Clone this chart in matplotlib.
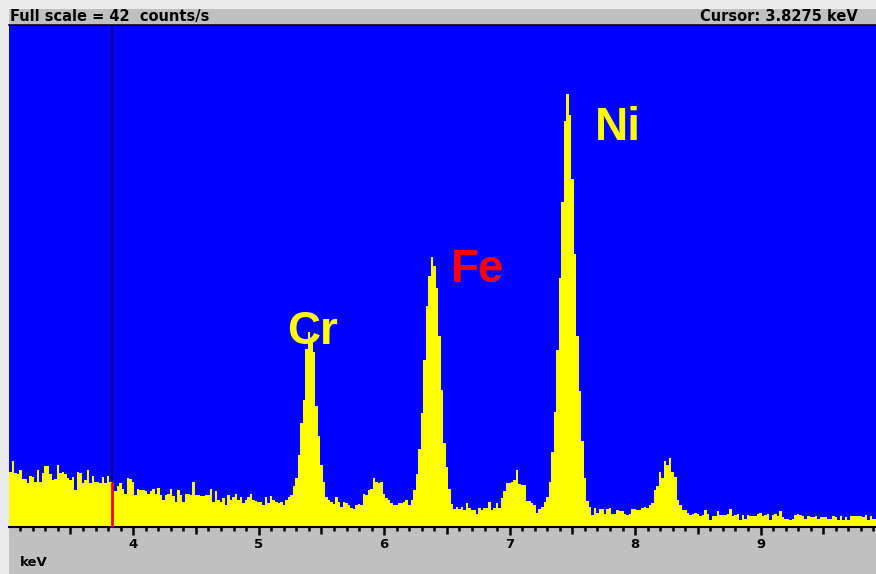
import numpy as np
import matplotlib
matplotlib.use('Agg')
import matplotlib.pyplot as plt
from matplotlib.patches import Rectangle

# EDS spectrum, 20 eV channels starting at 3.01 keV (counts/s)
e_start = 3.01
ch_width = 0.02
counts = [
    4.6, 5.5, 4.5, 4.4, 4.8, 4.0, 4.0, 3.7, 4.3, 4.2,
    3.8, 4.8, 3.8, 4.5, 5.1, 5.1, 4.4, 3.9, 4.0, 5.2,
    4.5, 4.6, 4.4, 4.1, 3.9, 4.2, 3.1, 4.6, 4.5, 3.7,
    3.9, 4.8, 3.7, 4.3, 3.8, 3.8, 3.7, 4.2, 3.7, 4.3,
    3.8, 2.9, 3.0, 3.4, 3.7, 3.2, 2.8, 4.1, 4.0, 3.8,
    2.7, 3.2, 3.1, 3.1, 3.0, 2.8, 3.0, 3.2, 2.8, 3.3,
    2.7, 2.3, 2.7, 2.8, 3.2, 2.6, 2.1, 3.1, 2.7, 2.1,
    2.8, 2.8, 2.7, 3.8, 2.7, 2.7, 2.6, 2.6, 2.7, 2.7,
    3.2, 2.1, 3.0, 2.3, 2.1, 2.4, 1.8, 2.7, 2.3, 2.5,
    2.8, 2.3, 2.5, 2.0, 2.3, 2.5, 2.8, 2.3, 2.2, 2.1,
    2.1, 1.8, 2.5, 2.0, 2.6, 2.3, 2.1, 2.0, 2.1, 1.8,
    2.3, 2.5, 2.7, 3.4, 4.1, 6.0, 8.7, 10.6, 14.9, 16.3,
    15.8, 14.6, 10.1, 7.6, 5.2, 3.8, 2.5, 2.3, 2.1, 1.9,
    2.5, 2.1, 1.7, 2.1, 2.0, 1.8, 1.6, 1.5, 1.8, 1.9,
    1.8, 2.8, 2.7, 3.1, 3.2, 4.1, 3.8, 3.7, 3.8, 2.8,
    2.4, 2.3, 2.0, 1.8, 1.8, 2.0, 2.0, 2.1, 2.3, 1.8,
    2.3, 3.1, 4.4, 6.5, 9.5, 14.0, 18.5, 21.0, 22.6, 21.8,
    20.0, 16.0, 11.5, 7.0, 5.0, 3.2, 1.9, 1.5, 1.7, 1.5,
    1.7, 1.4, 2.0, 1.6, 1.4, 1.4, 1.1, 1.6, 1.4, 1.6,
    1.6, 2.1, 1.4, 1.6, 2.0, 1.6, 2.4, 3.0, 3.7, 3.7,
    3.8, 3.9, 4.8, 3.6, 3.5, 3.5, 2.2, 2.2, 2.0, 1.8,
    1.2, 1.5, 1.7, 2.1, 2.5, 3.8, 6.3, 9.6, 14.8, 20.8,
    27.2, 34.0, 36.2, 34.5, 29.1, 22.8, 16.0, 11.4, 7.2, 4.1,
    2.2, 1.7, 1.0, 1.6, 1.2, 1.5, 1.5, 1.1, 1.5, 1.6,
    1.1, 1.1, 1.4, 1.3, 1.3, 1.1, 1.0, 1.1, 1.5, 1.5,
    1.4, 1.4, 1.6, 1.7, 1.6, 1.8, 2.0, 3.1, 3.4, 4.6,
    4.1, 5.5, 5.2, 5.8, 4.6, 4.2, 2.3, 1.8, 1.4, 1.4,
    1.2, 1.0, 1.1, 1.2, 1.1, 0.9, 1.0, 1.4, 1.1, 0.6,
    0.9, 0.9, 1.3, 1.0, 1.0, 1.0, 1.1, 1.5, 0.9, 1.0,
    1.1, 0.6, 1.0, 0.7, 1.0, 0.9, 0.9, 0.9, 1.1, 1.2,
    0.9, 1.0, 1.1, 0.6, 1.0, 1.1, 0.9, 1.3, 0.8, 0.7,
    0.7, 0.6, 0.7, 1.0, 1.1, 1.0, 0.9, 0.7, 0.9, 0.8,
    0.8, 0.9, 0.7, 0.8, 0.8, 0.8, 0.7, 0.7, 0.9, 0.8,
    0.6, 0.9, 0.6, 0.8, 0.6, 0.9, 0.9, 0.9, 0.9, 0.9,
    0.8, 1.0, 0.6, 0.9, 0.7, 0.7,
]
full_scale = 42
cursor_kev = 3.8275
x_range = (3.01, 9.92)
tick_labels = ['4', '5', '6', '7', '8', '9']
elements = ['Cr', 'Fe', 'Ni']
element_pos = [(5.432, 15.3), (6.747, 20.5), (7.863, 32.4)]
element_colors = ['#ffff00', '#ff0000', '#ffff00']

W, H = 876, 574
fig = plt.figure(figsize=(W / 100, H / 100), dpi=100, facecolor='#ececec')

def fx(px):
    return px / W

def fy(py):
    return 1 - py / H

# grey header bar and bottom strip
fig.add_artist(Rectangle((fx(9), fy(24)), fx(867), 15 / H, transform=fig.transFigure,
                         facecolor='#c0c0c0', edgecolor='none', zorder=0))
fig.add_artist(Rectangle((fx(9), 0), fx(867), fy(527), transform=fig.transFigure,
                         facecolor='#c0c0c0', edgecolor='none', zorder=0))
fig.add_artist(plt.Line2D([fx(9), 1], [fy(24.5), fy(24.5)], transform=fig.transFigure,
                          color='black', lw=1.2))

ax = fig.add_axes([fx(9), fy(527), fx(867), (527 - 25) / H])
ax.set_facecolor('#0000ff')
counts = np.array(counts)
edges = e_start + ch_width * np.arange(len(counts) + 1)
ax.stairs(counts, edges, fill=True, color='#ffff00', zorder=2)
ax.set_xlim(*x_range)
ax.set_ylim(0, full_scale)

# cursor: dark above the spectrum, red inside it
idx = int((cursor_kev - e_start) // ch_width)
ax.vlines(cursor_kev, counts[idx], full_scale, color='#000080', lw=1.2, zorder=3)
ax.vlines(cursor_kev, 0, counts[idx], color='#ff0000', lw=2, zorder=3)

for name, (ex, ey), c in zip(elements, element_pos, element_colors):
    ax.text(ex, ey, name, color=c, fontsize=33, fontweight='bold',
            family='Liberation Sans', ha='center', va='baseline', zorder=4)

for s in ['top', 'right', 'left']:
    ax.spines[s].set_visible(False)
ax.spines['bottom'].set_linewidth(1.5)
ax.set_yticks([])
ax.set_xticks([])

# tick marks: 0.1 keV minor, 0.5 keV medium, 1 keV major
trans = ax.get_xaxis_transform()
for i in range(31, 100):
    e = i / 10
    if i % 10 == 0:
        ln = 8
    elif i % 5 == 0:
        ln = 7
    else:
        ln = 4
    ax.plot([e, e], [0, -ln / 502], transform=trans, color='black', lw=1.8,
            clip_on=False, solid_capstyle='butt')
for lab in tick_labels:
    ax.text(float(lab), -18 / 502, lab, transform=trans, ha='center', va='center',
            fontsize=9.5, fontweight='bold', family='DejaVu Sans')

fig.text(fx(20), fy(562), 'keV', fontsize=9.5, fontweight='bold', family='DejaVu Sans',
         va='center', ha='left')
fig.text(fx(10), fy(16.5), 'Full scale = %d  counts/s' % full_scale, fontsize=10.5,
         fontweight='bold', family='DejaVu Sans', va='center', ha='left')
fig.text(fx(858), fy(16.5), 'Cursor: %.4f keV' % cursor_kev, fontsize=10.5,
         fontweight='bold', family='DejaVu Sans', va='center', ha='right')

fig.savefig('out.png', dpi=100, facecolor=fig.get_facecolor())
